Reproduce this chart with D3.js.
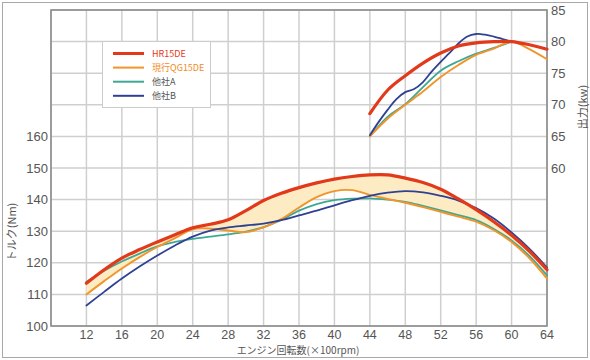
<!DOCTYPE html>
<html><head><meta charset="utf-8">
<script src="https://cdn.jsdelivr.net/npm/d3@7/dist/d3.min.js"></script>
<style>body{margin:0;background:#fff}svg{display:block}</style>
</head><body>
<svg id="c" width="590" height="360"></svg>
<script>
// ---- data ----
const rpm = [12,14,16,18,20,22,24,26,28,30,32,34,36,38,40,42,44,46,48,50,52,54,56,58,60,62,64];
const torqueHR15DE = [113.5,117.8,121.5,124.2,126.6,128.9,131.1,132.2,133.6,136.5,139.7,142.0,143.8,145.3,146.5,147.3,147.8,147.8,146.8,145.4,143.3,140.2,136.8,133.0,128.7,123.7,117.8];
const torqueQG15DE = [110.0,114.2,118.2,121.8,125.0,127.8,130.6,130.8,130.2,129.7,131.2,133.8,137.5,140.8,142.7,143.0,141.5,140.2,139.0,137.6,136.1,134.6,133.0,130.3,126.6,121.5,115.0];
const torqueA = [114.0,117.5,120.4,122.9,125.2,126.6,127.6,128.3,129.0,129.9,131.3,133.6,136.5,138.6,139.8,140.3,140.4,140.0,139.3,138.0,136.6,135.1,133.5,130.7,127.1,122.2,116.0];
const torqueB = [106.5,110.8,115.0,118.8,122.3,125.5,128.3,130.2,131.2,131.8,132.4,133.5,135.0,136.5,138.2,139.8,141.2,142.2,142.7,142.3,141.2,139.7,137.3,134.0,129.6,124.5,118.5];

const powerRpm = [44,46,48,50,52,54,56,58,60,62,64];
const powerHR15DE = [68.6,72.3,74.6,76.6,78.2,79.3,79.8,80.0,80.0,79.5,78.8];
const powerQG15DE = [65.0,67.8,70.0,72.1,74.4,76.3,77.9,78.9,80.0,78.8,77.2];
const powerRpmA = [44,46,48,50,52,54,56,58,60];
const powerA = [65.0,68.1,70.1,72.8,75.4,76.9,78.1,79.0,80.0];
const powerRpmB = [44,45,46,47,48,49,50,51,52,53,54,55,56,57,58,59,60];
const powerB = [65.2,67.3,69.2,70.9,72.0,72.5,73.6,75.3,76.8,78.2,79.7,80.8,81.2,81.1,80.8,80.4,80.0];

const xTicks = [12,16,20,24,28,32,36,40,44,48,52,56,60,64];
const xGrid = [8,12,16,20,24,28,32,36,40,44,48,52,56,60,64];
const leftTicks = [100,110,120,130,140,150,160];
const leftGrid = [100,110,120,130,140,150,160,170,180,190,200];
const rightTicks = [60,65,70,75,80,85];
const seriesNames = ["HR15DE","現行QG15DE","他社A","他社B"];
const xTitle = "エンジン回転数(×100rpm)";
const yLeftTitle = "トルク(Nm)";
const yRightTitle = "出力(kw)";

// ---- styles ----
const colors = ["#e2391b","#f1952a","#3fa894","#2f4191"];
const widths = [3.2,1.9,1.8,1.8];
const textColors = ["#e2391b","#ef8a1e","#555","#555"];
const font = "'Liberation Sans', Arial, 'Noto Sans CJK JP', sans-serif";
const cjk = "'Noto Sans CJK JP', 'Liberation Sans', sans-serif";

const svg = d3.select("#c");
const L = 51, R = 547, T = 10, B = 326;
const x = d3.scaleLinear().domain([8,64]).range([L,R]);
const yT = d3.scaleLinear().domain([100,200]).range([B,T]);
const yP = d3.scaleLinear().domain([35,85]).range([B,T]);

// outer frame
svg.append("rect").attr("x",2.5).attr("y",2.5).attr("width",585).attr("height",355)
  .attr("fill","#fff").attr("stroke","#a8a8a8").attr("stroke-width",1);

// grid
const g = svg.append("g");
g.selectAll(".vg").data(xGrid).join("line")
  .attr("x1",d=>x(d)).attr("x2",d=>x(d)).attr("y1",T).attr("y2",B)
  .attr("stroke","#cfcfcf").attr("stroke-width",1.5);
g.selectAll(".hg").data(leftGrid).join("line")
  .attr("x1",L).attr("x2",R).attr("y1",d=>yT(d)).attr("y2",d=>yT(d))
  .attr("stroke","#cfcfcf").attr("stroke-width",1.5);

// fill between HR15DE and QG15DE torque
const curve = d3.curveCatmullRom.alpha(0.5);
const area = d3.area().x((d,i)=>x(rpm[i])).y0((d,i)=>yT(torqueQG15DE[i])).y1(d=>yT(d)).curve(curve);
svg.append("path").datum(torqueHR15DE).attr("d",area).attr("fill","#fdebc4");

// frame
svg.append("rect").attr("x",L).attr("y",T).attr("width",R-L).attr("height",B-T)
  .attr("fill","none").attr("stroke","#8c8c8c").attr("stroke-width",1.6);

// lines
function line(xs, ys, scale, i){
  const gen = d3.line().x((d,k)=>x(xs[k])).y(d=>scale(d)).curve(curve);
  svg.append("path").datum(ys).attr("d",gen).attr("fill","none")
    .attr("stroke",colors[i]).attr("stroke-width",widths[i]).attr("stroke-linecap","round");
}
line(rpm, torqueA, yT, 2);
line(rpm, torqueQG15DE, yT, 1);
line(rpm, torqueB, yT, 3);
line(rpm, torqueHR15DE, yT, 0);
line(powerRpmA, powerA, yP, 2);
line(powerRpm, powerQG15DE, yP, 1);
line(powerRpmB, powerB, yP, 3);
line(powerRpm, powerHR15DE, yP, 0);

// axes labels
const lab = svg.append("g").attr("font-family",font).attr("fill","#555");
lab.selectAll(".lt").data(leftTicks).join("text").attr("font-size",13)
  .attr("x",48).attr("y",d=>yT(d)).attr("dy","0.36em").attr("text-anchor","end").text(d=>d);
lab.selectAll(".rt").data(rightTicks).join("text").attr("font-size",13)
  .attr("x",551).attr("y",d=>yP(d)).attr("dy","0.36em").attr("text-anchor","start").text(d=>d);
lab.selectAll(".bt").data(xTicks).join("text").attr("font-size",12.5)
  .attr("x",d=>x(d)).attr("y",339).attr("text-anchor","middle").text(d=>d);

svg.append("text").attr("x",298).attr("y",354).attr("text-anchor","middle")
  .attr("font-family",cjk).attr("font-size",10).attr("fill","#555").text(xTitle);
svg.append("text").attr("transform","translate(16,232) rotate(-90)").attr("text-anchor","middle")
  .attr("font-family",cjk).attr("font-size",11).attr("fill","#555").text(yLeftTitle);
svg.append("text").attr("transform","translate(587,107) rotate(-90)").attr("text-anchor","middle")
  .attr("font-family",cjk).attr("font-size",11).attr("fill","#555").text(yRightTitle);

// legend
const lg = svg.append("g");
lg.append("rect").attr("x",102.5).attr("y",41.5).attr("width",108).attr("height",66)
  .attr("fill","#fff").attr("stroke","#cccccc").attr("stroke-width",1);
seriesNames.forEach((n,i)=>{
  const yy = 53.5 + i*14.1;
  lg.append("line").attr("x1",113).attr("x2",144).attr("y1",yy).attr("y2",yy)
    .attr("stroke",colors[i]).attr("stroke-width",i===0?3:2);
  lg.append("text").attr("x",152).attr("y",yy).attr("dy","0.36em")
    .attr("font-family",cjk).attr("font-size",9).attr("fill",textColors[i]).text(n);
});
</script>
</body></html>
